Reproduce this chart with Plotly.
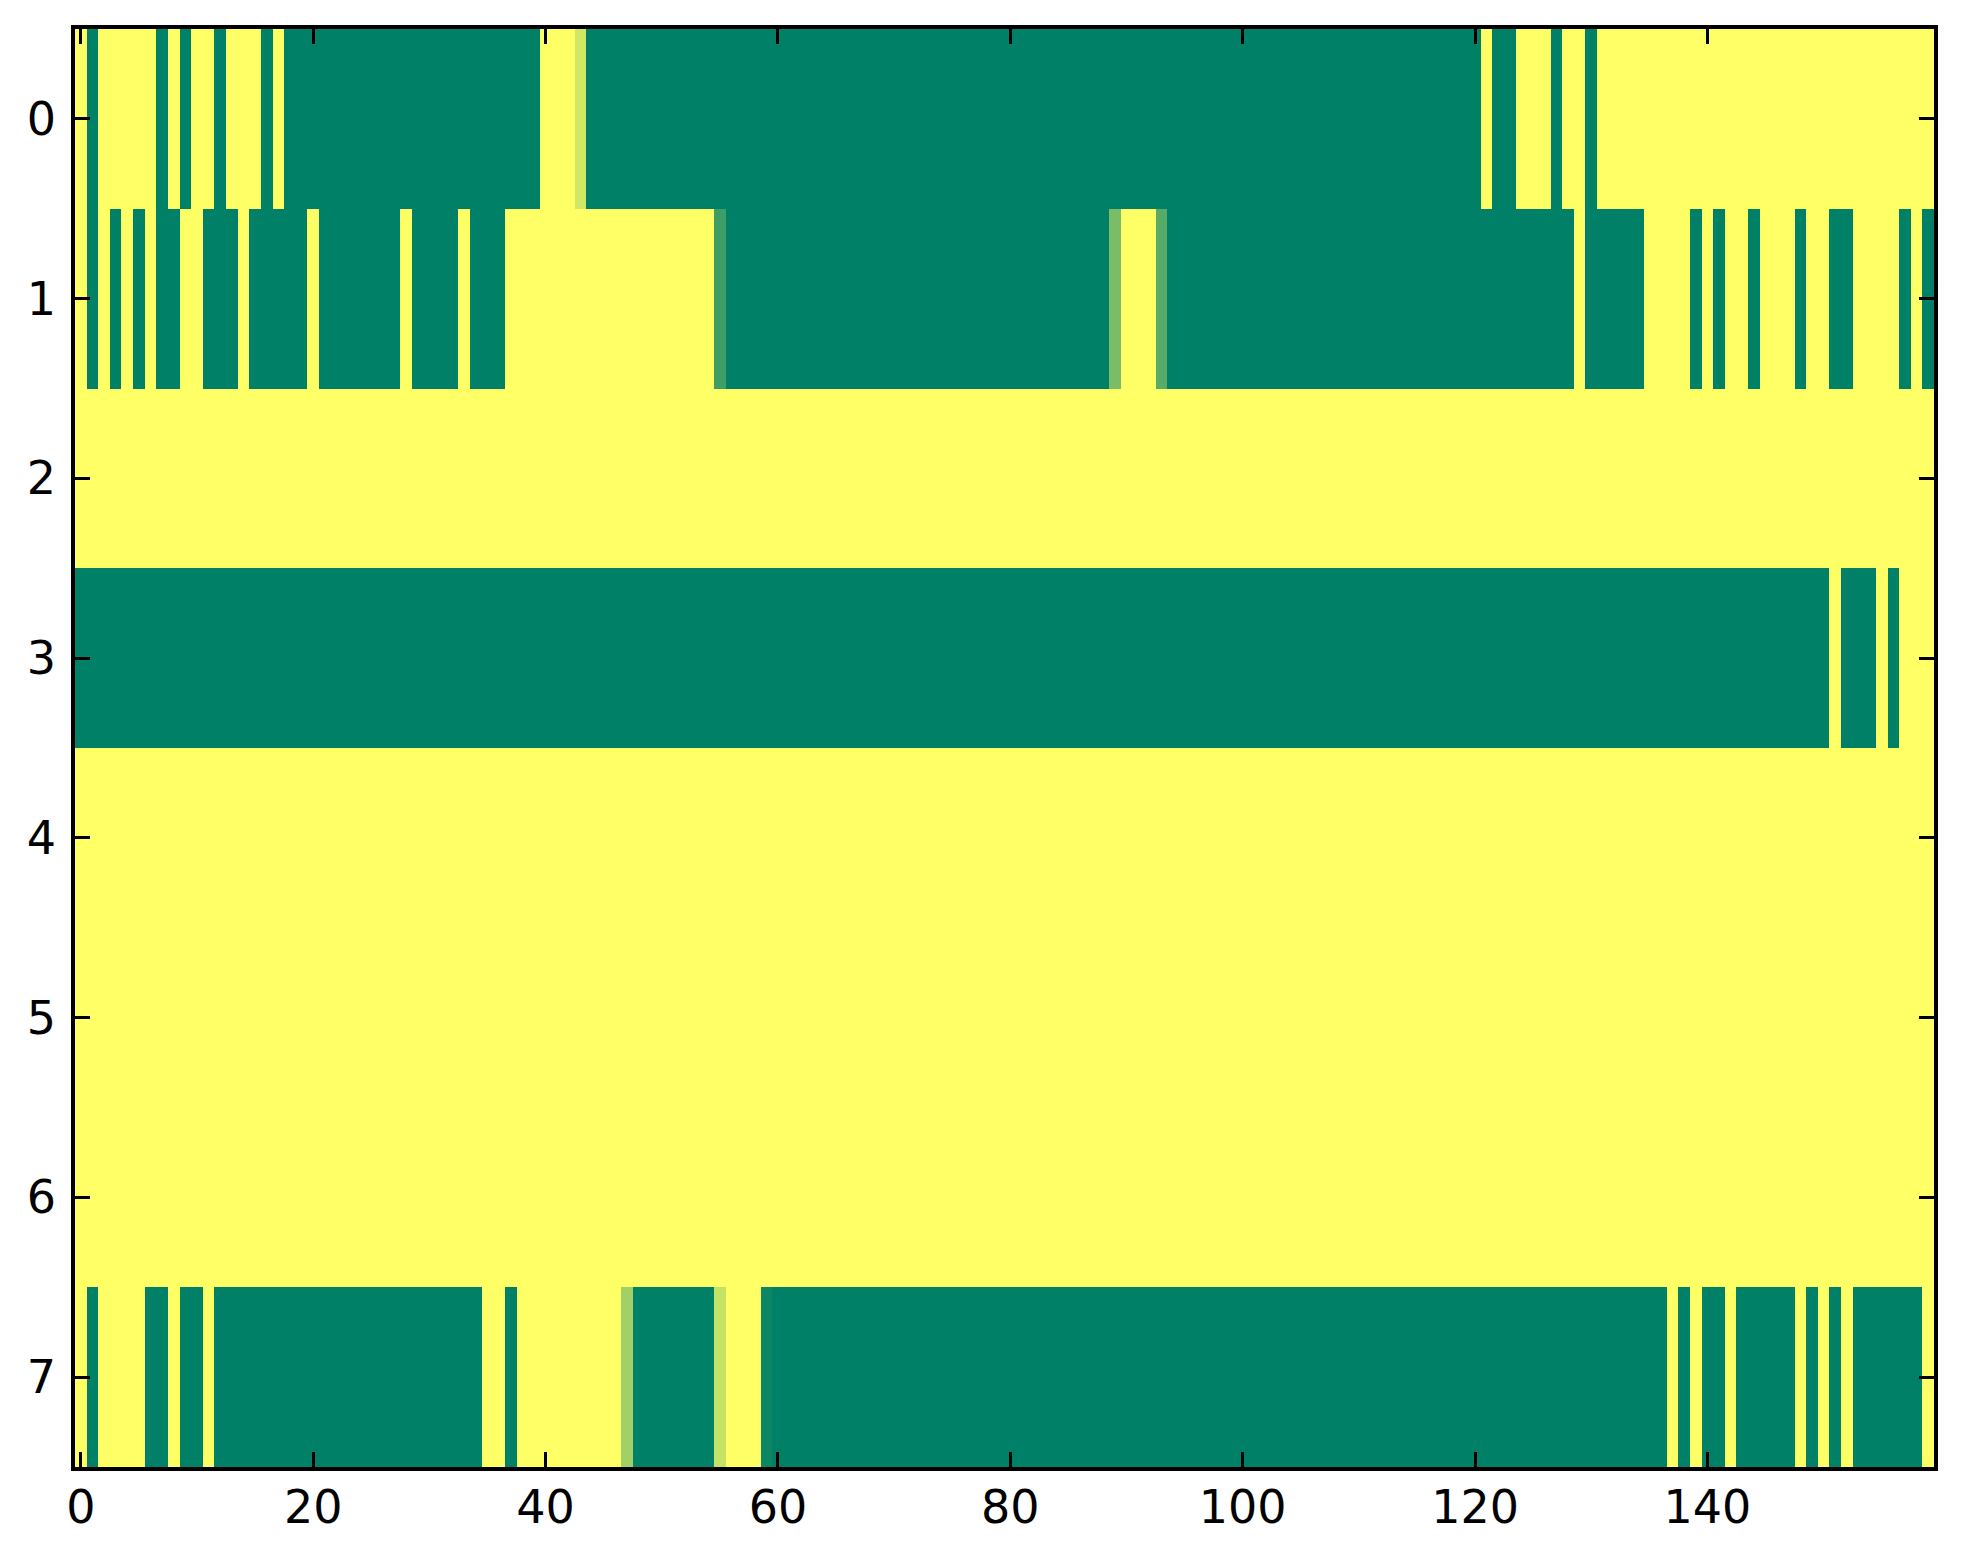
import plotly.graph_objects as go

# each row: 160 cells, 1 = yellow end of the map, 0 = green end
row0 = [1, 0, 1, 1, 1, 1, 1, 0, 1, 0, 1, 1, 0, 1, 1, 1, 0, 1, 0, 0,
        0, 0, 0, 0, 0, 0, 0, 0, 0, 0, 0, 0, 0, 0, 0, 0, 0, 0, 0, 0,
        1, 1, 1, 0.82, 0, 0, 0, 0, 0, 0, 0, 0, 0, 0, 0, 0, 0, 0, 0, 0,
        0, 0, 0, 0, 0, 0, 0, 0, 0, 0, 0, 0, 0, 0, 0, 0, 0, 0, 0, 0,
        0, 0, 0, 0, 0, 0, 0, 0, 0, 0, 0, 0, 0, 0, 0, 0, 0, 0, 0, 0,
        0, 0, 0, 0, 0, 0, 0, 0, 0, 0, 0, 0, 0, 0, 0, 0, 0, 0, 0, 0,
        0, 1, 0, 0, 1, 1, 1, 0, 1, 1, 0, 1, 1, 1, 1, 1, 1, 1, 1, 1,
        1, 1, 1, 1, 1, 1, 1, 1, 1, 1, 1, 1, 1, 1, 1, 1, 1, 1, 1, 1]
row1 = [1, 0, 1, 0, 1, 0, 1, 0, 0, 1, 1, 0, 0, 0, 1, 0, 0, 0, 0, 0,
        1, 0, 0, 0, 0, 0, 0, 0, 1, 0, 0, 0, 0, 1, 0, 0, 0, 1, 1, 1,
        1, 1, 1, 1, 1, 1, 1, 1, 1, 1, 1, 1, 1, 1, 1, 0.24, 0, 0, 0, 0,
        0, 0, 0, 0, 0, 0, 0, 0, 0, 0, 0, 0, 0, 0, 0, 0, 0, 0, 0, 0,
        0, 0, 0, 0, 0, 0, 0, 0, 0, 0.48, 1, 1, 1, 0.34, 0, 0, 0, 0, 0, 0,
        0, 0, 0, 0, 0, 0, 0, 0, 0, 0, 0, 0, 0, 0, 0, 0, 0, 0, 0, 0,
        0, 0, 0, 0, 0, 0, 0, 0, 0, 1, 0, 0, 0, 0, 0, 1, 1, 1, 1, 0,
        1, 0, 1, 1, 0, 1, 1, 1, 0, 1, 1, 0, 0, 1, 1, 1, 1, 0, 1, 0]
row2 = [1, 1, 1, 1, 1, 1, 1, 1, 1, 1, 1, 1, 1, 1, 1, 1, 1, 1, 1, 1,
        1, 1, 1, 1, 1, 1, 1, 1, 1, 1, 1, 1, 1, 1, 1, 1, 1, 1, 1, 1,
        1, 1, 1, 1, 1, 1, 1, 1, 1, 1, 1, 1, 1, 1, 1, 1, 1, 1, 1, 1,
        1, 1, 1, 1, 1, 1, 1, 1, 1, 1, 1, 1, 1, 1, 1, 1, 1, 1, 1, 1,
        1, 1, 1, 1, 1, 1, 1, 1, 1, 1, 1, 1, 1, 1, 1, 1, 1, 1, 1, 1,
        1, 1, 1, 1, 1, 1, 1, 1, 1, 1, 1, 1, 1, 1, 1, 1, 1, 1, 1, 1,
        1, 1, 1, 1, 1, 1, 1, 1, 1, 1, 1, 1, 1, 1, 1, 1, 1, 1, 1, 1,
        1, 1, 1, 1, 1, 1, 1, 1, 1, 1, 1, 1, 1, 1, 1, 1, 1, 1, 1, 1]
row3 = [0, 0, 0, 0, 0, 0, 0, 0, 0, 0, 0, 0, 0, 0, 0, 0, 0, 0, 0, 0,
        0, 0, 0, 0, 0, 0, 0, 0, 0, 0, 0, 0, 0, 0, 0, 0, 0, 0, 0, 0,
        0, 0, 0, 0, 0, 0, 0, 0, 0, 0, 0, 0, 0, 0, 0, 0, 0, 0, 0, 0,
        0, 0, 0, 0, 0, 0, 0, 0, 0, 0, 0, 0, 0, 0, 0, 0, 0, 0, 0, 0,
        0, 0, 0, 0, 0, 0, 0, 0, 0, 0, 0, 0, 0, 0, 0, 0, 0, 0, 0, 0,
        0, 0, 0, 0, 0, 0, 0, 0, 0, 0, 0, 0, 0, 0, 0, 0, 0, 0, 0, 0,
        0, 0, 0, 0, 0, 0, 0, 0, 0, 0, 0, 0, 0, 0, 0, 0, 0, 0, 0, 0,
        0, 0, 0, 0, 0, 0, 0, 0, 0, 0, 0, 1, 0, 0, 0, 1, 0, 1, 1, 1]
row4 = list(row2)
row5 = list(row2)
row6 = list(row2)
row7 = [1, 0, 1, 1, 1, 1, 0, 0, 1, 0, 0, 1, 0, 0, 0, 0, 0, 0, 0, 0,
        0, 0, 0, 0, 0, 0, 0, 0, 0, 0, 0, 0, 0, 0, 0, 1, 1, 0, 1, 1,
        1, 1, 1, 1, 1, 1, 1, 0.63, 0, 0, 0, 0, 0, 0, 0, 0.77, 1, 1, 1, 0.05,
        0, 0, 0, 0, 0, 0, 0, 0, 0, 0, 0, 0, 0, 0, 0, 0, 0, 0, 0, 0,
        0, 0, 0, 0, 0, 0, 0, 0, 0, 0, 0, 0, 0, 0, 0, 0, 0, 0, 0, 0,
        0, 0, 0, 0, 0, 0, 0, 0, 0, 0, 0, 0, 0, 0, 0, 0, 0, 0, 0, 0,
        0, 0, 0, 0, 0, 0, 0, 0, 0, 0, 0, 0, 0, 0, 0, 0, 0, 1, 0, 1,
        0, 0, 1, 0, 0, 0, 0, 0, 1, 0, 1, 0, 1, 0, 0, 0, 0, 0, 0, 1]

rows = [row0, row1, row2, row3, row4, row5, row6, row7]
x_ticks = [0, 20, 40, 60, 80, 100, 120, 140]
y_ticks = [0, 1, 2, 3, 4, 5, 6, 7]

# matplotlib "summer"
summer = [[0, "#008066"], [1, "#ffff66"]]

fig = go.Figure(go.Heatmap(
    z=rows,
    colorscale=summer,
    zmin=0, zmax=1,
    showscale=False,
    hoverinfo="skip",
))

axis_style = dict(
    showline=True, linewidth=3.5, linecolor="black", mirror="ticks",
    ticks="inside", ticklen=15, tickwidth=2.5, tickcolor="black",
    showgrid=False, zeroline=False,
    tickfont=dict(family="DejaVu Sans", size=46, color="black"),
)

# page body adds ~8px offset, margins compensate for it
fig.update_layout(
    width=1963, height=1564,
    margin=dict(l=67, r=37, t=21, b=105),
    paper_bgcolor="white", plot_bgcolor="white",
    xaxis=dict(range=[-0.5, 159.5], tickvals=x_ticks, ticklabelstandoff=-3, **axis_style),
    yaxis=dict(range=[7.5, -0.5], tickvals=y_ticks, ticklabelstandoff=6, **axis_style),
)

fig.write_html("out.html")
